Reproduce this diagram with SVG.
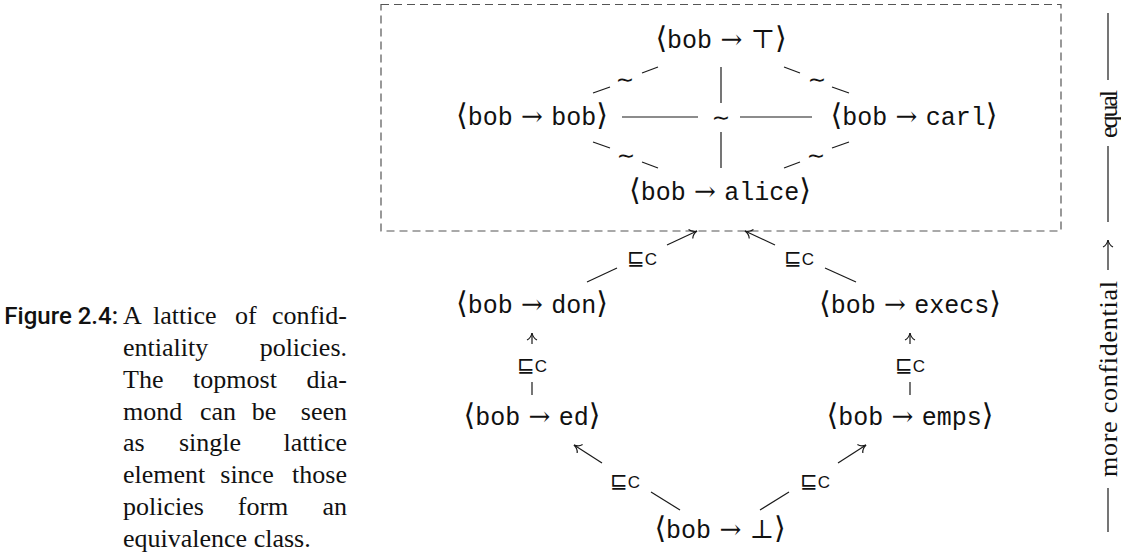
<svg xmlns="http://www.w3.org/2000/svg" width="1121" height="559" viewBox="0 0 1121 559">
<defs>
<style>
.node{text-anchor:middle;fill:#111}
.m{font-family:"DejaVu Serif","DejaVu Sans",serif;font-size:26px}
.b{font-family:"DejaVu Serif","DejaVu Sans",serif;font-size:30px}
.t{font-family:"Liberation Mono",monospace;font-size:25px}
.ln{stroke:#1a1a1a;stroke-width:1.2;fill:none}
.tl{font-family:"DejaVu Sans",sans-serif;font-size:22px;text-anchor:middle;fill:#111}
.lbl{text-anchor:middle;fill:#111}
.sq{font-family:"DejaVu Sans",sans-serif;font-size:21px}
.c{font-family:"Liberation Sans",sans-serif;font-size:17px}
.cap{font-family:"Liberation Serif",serif;font-size:26px;fill:#111}
.side{font-family:"Liberation Serif",serif;font-size:26px;fill:#111;text-anchor:middle}
</style>
<marker id="to" viewBox="-8 -6 10 12" refX="0" refY="0" markerWidth="10" markerHeight="12" markerUnits="userSpaceOnUse" orient="auto" overflow="visible">
<path d="M-7,-5 C-5.5,-2 -2.5,-0.5 0,0 C-2.5,0.5 -5.5,2 -7,5" stroke="#1a1a1a" stroke-width="1.2" fill="none"/>
</marker>
</defs>
<rect width="1121" height="559" fill="#fff"/>

<g id="equivalence-box">
<rect x="381" y="4.5" width="680" height="226.5" fill="none" stroke="#555" stroke-width="1.2" stroke-dasharray="8 5"/>
</g>

<g id="connectors">
<line class="ln" x1="593" y1="93" x2="610" y2="87"/>
<line class="ln" x1="642" y1="73" x2="658" y2="67"/>
<text class="tl" x="625" y="87">∼</text>
<line class="ln" x1="849" y1="93" x2="832" y2="87"/>
<line class="ln" x1="800" y1="73" x2="784" y2="67"/>
<text class="tl" x="817" y="87">∼</text>
<line class="ln" x1="593" y1="142" x2="610" y2="148"/>
<line class="ln" x1="642" y1="162" x2="658" y2="168"/>
<text class="tl" x="626" y="163">∼</text>
<line class="ln" x1="849" y1="142" x2="832" y2="148"/>
<line class="ln" x1="800" y1="162" x2="784" y2="168"/>
<text class="tl" x="816" y="163">∼</text>
<line class="ln" x1="622" y1="117" x2="698" y2="117"/>
<line class="ln" x1="740" y1="117" x2="812" y2="117"/>
<line class="ln" x1="721" y1="67" x2="721" y2="103"/>
<line class="ln" x1="721" y1="132" x2="721" y2="168"/>
<text class="tl" x="721" y="125">∼</text>
<line class="ln" x1="587" y1="282" x2="617" y2="268"/>
<text class="lbl" x="642" y="265"><tspan class="sq">⊑</tspan><tspan class="c">C</tspan></text>
<line class="ln" x1="667" y1="245" x2="697" y2="231" marker-end="url(#to)"/>
<line class="ln" x1="856" y1="282" x2="825" y2="268"/>
<text class="lbl" x="799" y="265"><tspan class="sq">⊑</tspan><tspan class="c">C</tspan></text>
<line class="ln" x1="775" y1="245" x2="745" y2="231" marker-end="url(#to)"/>
<line class="ln" x1="532" y1="395" x2="532" y2="382"/>
<text class="lbl" x="532" y="372"><tspan class="sq">⊑</tspan><tspan class="c">C</tspan></text>
<line class="ln" x1="532" y1="344" x2="532" y2="333" marker-end="url(#to)"/>
<line class="ln" x1="910" y1="395" x2="910" y2="382"/>
<text class="lbl" x="910" y="372"><tspan class="sq">⊑</tspan><tspan class="c">C</tspan></text>
<line class="ln" x1="910" y1="344" x2="910" y2="333" marker-end="url(#to)"/>
<line class="ln" x1="680" y1="510" x2="651" y2="492"/>
<text class="lbl" x="625" y="488"><tspan class="sq">⊑</tspan><tspan class="c">C</tspan></text>
<line class="ln" x1="602" y1="463" x2="574" y2="445" marker-end="url(#to)"/>
<line class="ln" x1="760" y1="510" x2="789" y2="492"/>
<text class="lbl" x="815" y="488"><tspan class="sq">⊑</tspan><tspan class="c">C</tspan></text>
<line class="ln" x1="838" y1="463" x2="866" y2="445" marker-end="url(#to)"/>
</g>

<g id="node-top"><text class="node" x="721" y="48"><tspan class="b">⟨</tspan><tspan class="t">bob</tspan><tspan class="m"> → ⊤</tspan><tspan class="b">⟩</tspan></text></g>
<g id="node-bob"><text class="node" x="532" y="125"><tspan class="b">⟨</tspan><tspan class="t">bob</tspan><tspan class="m"> → </tspan><tspan class="t">bob</tspan><tspan class="b">⟩</tspan></text></g>
<g id="node-carl"><text class="node" x="914" y="125"><tspan class="b">⟨</tspan><tspan class="t">bob</tspan><tspan class="m"> → </tspan><tspan class="t">carl</tspan><tspan class="b">⟩</tspan></text></g>
<g id="node-alice"><text class="node" x="720" y="200"><tspan class="b">⟨</tspan><tspan class="t">bob</tspan><tspan class="m"> → </tspan><tspan class="t">alice</tspan><tspan class="b">⟩</tspan></text></g>
<g id="node-don"><text class="node" x="532" y="313"><tspan class="b">⟨</tspan><tspan class="t">bob</tspan><tspan class="m"> → </tspan><tspan class="t">don</tspan><tspan class="b">⟩</tspan></text></g>
<g id="node-execs"><text class="node" x="910" y="313"><tspan class="b">⟨</tspan><tspan class="t">bob</tspan><tspan class="m"> → </tspan><tspan class="t">execs</tspan><tspan class="b">⟩</tspan></text></g>
<g id="node-ed"><text class="node" x="532" y="425"><tspan class="b">⟨</tspan><tspan class="t">bob</tspan><tspan class="m"> → </tspan><tspan class="t">ed</tspan><tspan class="b">⟩</tspan></text></g>
<g id="node-emps"><text class="node" x="910" y="425"><tspan class="b">⟨</tspan><tspan class="t">bob</tspan><tspan class="m"> → </tspan><tspan class="t">emps</tspan><tspan class="b">⟩</tspan></text></g>
<g id="node-bottom"><text class="node" x="720" y="538"><tspan class="b">⟨</tspan><tspan class="t">bob</tspan><tspan class="m"> → ⊥</tspan><tspan class="b">⟩</tspan></text></g>

<g id="side-scale">
<line class="ln" x1="1108" y1="13" x2="1108" y2="80"/>
<text class="side" transform="translate(1117 114) rotate(-90)" textLength="48">equal</text>
<line class="ln" x1="1108" y1="146" x2="1108" y2="222"/>
<line class="ln" x1="1108" y1="270" x2="1108" y2="240" marker-end="url(#to)"/>
<text class="side" transform="translate(1117 379) rotate(-90)" textLength="196">more confidential</text>
<line class="ln" x1="1108" y1="488" x2="1108" y2="532"/>
</g>

<g id="caption">
<text x="118" y="324" text-anchor="end" font-family="Roboto, sans-serif" font-weight="500" font-size="24" fill="#111">Figure 2.4:</text>
<g class="cap">
<text x="123" y="324">A</text><text x="153" y="324">lattice</text><text x="235" y="324">of</text><text x="347" y="324" text-anchor="end">confid-</text>
<text x="123" y="356">entiality</text><text x="347" y="356" text-anchor="end">policies.</text>
<text x="123" y="388">The</text><text x="235" y="388" text-anchor="middle">topmost</text><text x="347" y="388" text-anchor="end">dia-</text>
<text x="123" y="420">mond</text><text x="218" y="420" text-anchor="middle">can</text><text x="264" y="420" text-anchor="middle">be</text><text x="347" y="420" text-anchor="end">seen</text>
<text x="123" y="451">as</text><text x="210" y="451" text-anchor="middle">single</text><text x="347" y="451" text-anchor="end">lattice</text>
<text x="123" y="483">element</text><text x="247" y="483" text-anchor="middle">since</text><text x="347" y="483" text-anchor="end">those</text>
<text x="123" y="515">policies</text><text x="263" y="515" text-anchor="middle">form</text><text x="347" y="515" text-anchor="end">an</text>
<text x="123" y="547">equivalence class.</text>
</g>
</g>
</svg>
